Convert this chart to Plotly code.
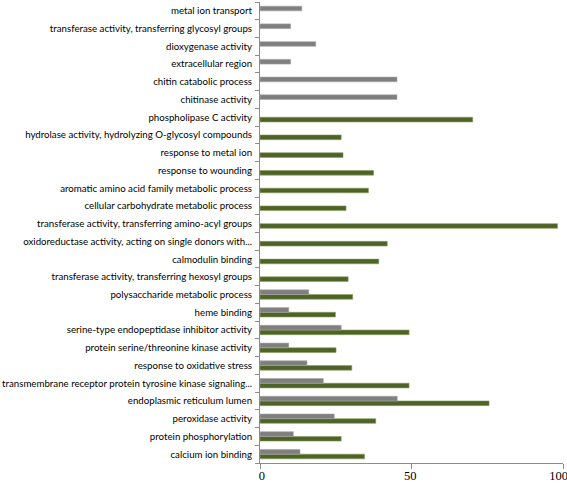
import plotly.graph_objects as go

categories = [
    "calcium ion binding",
    "protein phosphorylation",
    "peroxidase activity",
    "endoplasmic reticulum lumen",
    "transmembrane receptor protein tyrosine kinase signaling...",
    "response to oxidative stress",
    "protein serine/threonine kinase activity",
    "serine-type endopeptidase inhibitor activity",
    "heme binding",
    "polysaccharide metabolic process",
    "transferase activity, transferring hexosyl groups",
    "calmodulin binding",
    "oxidoreductase activity, acting on single donors with...",
    "transferase activity, transferring amino-acyl groups",
    "cellular carbohydrate metabolic process",
    "aromatic amino acid family metabolic process",
    "response to wounding",
    "response to metal ion",
    "hydrolase activity, hydrolyzing O-glycosyl compounds",
    "phospholipase C activity",
    "chitinase activity",
    "chitin catabolic process",
    "extracellular region",
    "dioxygenase activity",
    "transferase activity, transferring glycosyl groups",
    "metal ion transport",
]

green_values = [34.5, 26.8, 38.2, 75.6, 49.2, 30.3, 25.1, 49.2, 24.9, 30.6,
                29.1, 39.2, 42.0, 98.2, 28.4, 35.8, 37.5, 27.4, 26.8, 70.2,
                None, None, None, None, None, None]
gray_values = [13.2, 11.0, 24.5, 45.3, 20.9, 15.5, 9.5, 26.8, 9.5, 16.1,
               None, None, None, None, None, None, None, None, None, None,
               45.2, 45.2, 10.1, 18.4, 10.1, 13.8]

x_ticks = [0, 50, 100]
x_tick_labels = ["0", "50", "100"]

fig = go.Figure()
fig.add_trace(go.Bar(
    y=categories, x=green_values, orientation="h", name="green",
    marker=dict(color="#4f6228", line=dict(color="#8aa05a", width=0.6)),
))
fig.add_trace(go.Bar(
    y=categories, x=gray_values, orientation="h", name="gray",
    marker=dict(color="#7f7f7f", line=dict(color="#a6a6a6", width=0.6)),
))

fig.update_layout(
    width=567, height=486,
    margin=dict(l=260, r=4, t=2, b=23, autoexpand=False),
    barmode="group", bargap=0.47, bargroupgap=0,
    showlegend=False,
    plot_bgcolor="white", paper_bgcolor="white",
    font=dict(family="Lato", size=9.7, color="#000000"),
)
fig.update_xaxes(
    range=[0, 100], tickvals=x_ticks, ticktext=x_tick_labels,
    showgrid=False, zeroline=False, automargin=False,
    showline=True, linecolor="#8c8c8c", linewidth=1,
    ticks="outside", ticklen=5, tickcolor="#8c8c8c",
    ticklabelposition="outside left", ticklabelshift=6,
    ticklabeloverflow="allow",
    tickfont=dict(family="Liberation Serif", size=12.5, color="#000000"),
    ticklabelstandoff=1,
)
fig.update_yaxes(
    type="category", categoryorder="array", categoryarray=categories,
    showgrid=False, zeroline=False, automargin=False,
    showline=True, linecolor="#8c8c8c", linewidth=1,
    ticks="outside", ticklen=4, tickcolor="#8c8c8c", tickson="boundaries",
    tickfont=dict(family="Lato", size=9.7, color="#000000"),
    ticklabelstandoff=5,
)

fig.write_html("out.html", config={"displayModeBar": False},
               post_script="document.body.style.margin='0';")
